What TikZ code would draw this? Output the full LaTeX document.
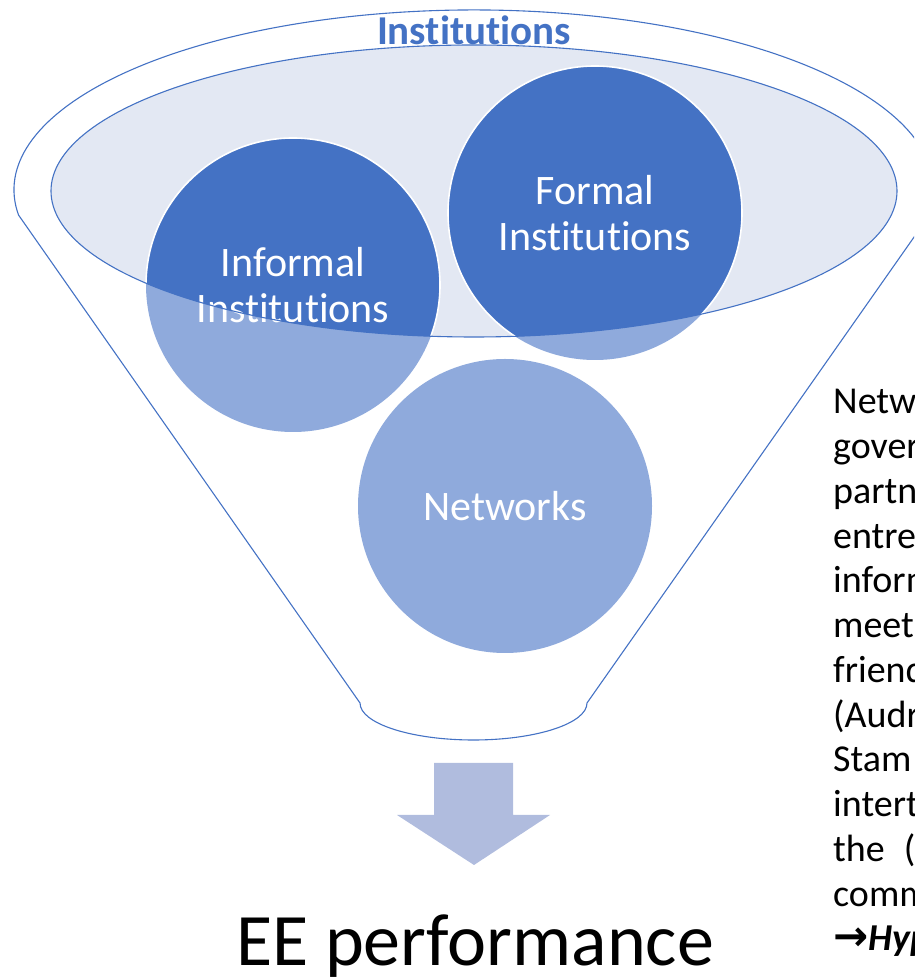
\documentclass[tikz,border=0pt]{standalone}
\usepackage{fontspec}
\setmainfont{Carlito}[Ligatures=NoCommon, Contextuals=NoAlternate]
\newfontfamily\arrowfont{DejaVu Sans}

\definecolor{accent}{RGB}{68,114,196}
\definecolor{paleaccent}{RGB}{143,170,220}
\definecolor{rimfill}{RGB}{227,232,243}
\definecolor{arrowfill}{RGB}{176,188,222}

\pgfdeclarelayer{back}
\pgfsetlayers{back,main}

\tikzset{
  bubble/.style={circle, minimum size=294pt, inner sep=0pt, align=center,
    text=white, font=\fontsize{42}{46}\selectfont},
  rim/.style={draw=accent, line width=1.1pt},
  note/.style={anchor=base west, inner sep=0pt, font=\fontsize{38}{44}\selectfont},
}

\begin{document}
\begin{tikzpicture}[x=1pt,y=1pt]
  \useasboundingbox (0,0) rectangle (914,977);
  \clip (0,0) rectangle (914,977);

  % funnel outline
  \draw[rim] (18.5,762) arc (188:-8:460 and 180)
    -- (587,274) arc (0:-180:113.5 and 37) -- cycle;

  \node[text=accent, font=\fontsize{41}{48}\selectfont\bfseries] (title) at (474,947) {Institutions};

  % the three bubbles
  \node[bubble] (informal) at (293,692) {Informal\\Institutions};
  \node[bubble] (formal) at (595,764) {Formal\\Institutions};
  \node[bubble] (networks) at (505,471) {Networks};

  \begin{pgfonlayer}{back}
    \fill[rimfill] (474,786) ellipse [x radius=423, y radius=146];
    \fill[paleaccent] (informal.center) circle [radius=147];
    \fill[paleaccent] (formal.center) circle [radius=147];
    \fill[paleaccent] (networks.center) circle [radius=147];
    % darker where the bubbles sit inside the rim
    \begin{scope}
      \clip (474,786) ellipse [x radius=423, y radius=146];
      \filldraw[fill=accent, draw=white, line width=1.6pt] (informal.center) circle [radius=147];
      \filldraw[fill=accent, draw=white, line width=1.6pt] (formal.center) circle [radius=147];
    \end{scope}
  \end{pgfonlayer}
  \draw[rim] (474,786) ellipse [x radius=423, y radius=146];

  % block arrow and result
  \fill[arrowfill] (434,214) -- (513,214) -- (513,162) -- (550,162)
    -- (474,112) -- (397,162) -- (434,162) -- cycle;
  \node[anchor=base, inner sep=0pt, font=\fontsize{74}{80}\selectfont] (perf) at (475,12) {EE performance};

  % side note, runs off the page
  \node[note] (l1) at (833,563) {Netwo};
  \node[note] (l2) at (833,518.25) {govern};
  \node[note] (l3) at (833,473.5) {partne};
  \node[note] (l4) at (833,428.75) {entrep};
  \node[note] (l5) at (833,384) {inform};
  \node[note] (l6) at (833,339.25) {meeti};
  \node[note] (l7) at (833,294.5) {friend};
  \node[note] (l8) at (833,249.75) {(Audr};
  \node[note] (l9) at (833,205) {Stam};
  \node[note] (l10) at (833,160.25) {intert};
  \node[note] (l11) at (833,115.5) {the\hspace{19pt}(};
  \node[note] (l12) at (833,70.75) {comm};
  \node[note] (l13) at (833,26) {{\arrowfont\bfseries\fontsize{42}{44}\selectfont →}\textbf{\textit{Hyp}}};
\end{tikzpicture}
\end{document}
